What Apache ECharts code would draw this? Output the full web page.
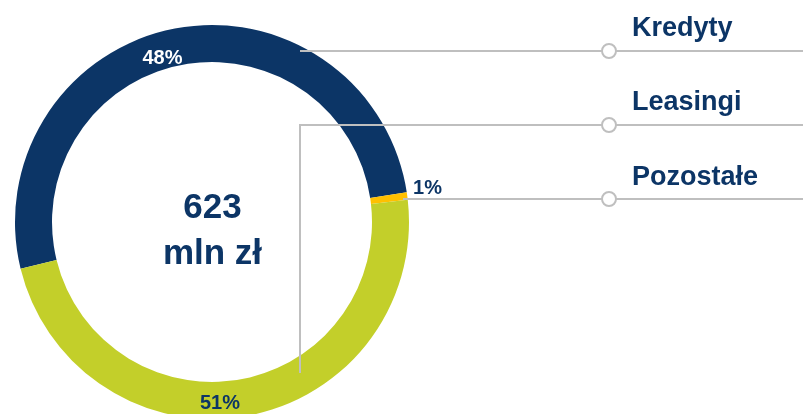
<!DOCTYPE html>
<html>
<head>
<meta charset="utf-8">
<script src="https://cdn.jsdelivr.net/npm/echarts@6/dist/echarts.min.js"></script>
<style>
html,body{margin:0;padding:0;background:#fff;}
#chart{width:803px;height:414px;}
</style>
</head>
<body>
<div id="chart"></div>
<script>
// Categories in legend order
const categories = ['Kredyty', 'Leasingi', 'Pozostałe'];
// Arc shares as drawn in the picture (%)
const shares = [51.4, 48.0, 0.6];
// Percentage labels as printed in the picture
const pctLabels = ['48%', '51%', '1%'];
// Centre text
const totalValue = '623';
const totalUnit = 'mln zł';
// Clockwise drawing order of slices (indices into categories)
const drawOrder = [0, 2, 1];

const NAVY = '#0c3566';
const GREEN = '#c3cf2a';
const ORANGE = '#ffc000';
const GREY = '#bfbfbf';
const sliceColors = [NAVY, GREEN, ORANGE];

const FONT = '"Liberation Sans", Arial, sans-serif';

const pieData = drawOrder.map(i => ({
  name: categories[i],
  value: shares[i],
  itemStyle: { color: sliceColors[i] }
}));

const chart = echarts.init(document.getElementById('chart'), null, { renderer: 'canvas' });

function txt(x, y, text, size, color, align) {
  return {
    type: 'text', x: x, y: y, z: 100,
    style: {
      text: text, fill: color,
      font: 'bold ' + size + 'px ' + FONT,
      align: align || 'center', verticalAlign: 'middle'
    }
  };
}
function line(x1, y1, x2, y2) {
  return {
    type: 'line', z: 50,
    shape: { x1: x1, y1: y1, x2: x2, y2: y2 },
    style: { stroke: GREY, lineWidth: 2 }
  };
}
function dot(x, y) {
  return {
    type: 'circle', z: 60,
    shape: { cx: x, cy: y, r: 7 },
    style: { fill: '#fff', stroke: GREY, lineWidth: 2 }
  };
}

const legendY = [51, 125, 199];
const legendTextY = [29, 103, 178];

const graphics = [
  line(300, legendY[0], 803, legendY[0]),
  line(300, legendY[1], 803, legendY[1]),
  line(300, legendY[1] - 1, 300, 373),
  line(403, legendY[2], 803, legendY[2]),
  dot(609, legendY[0]), dot(609, legendY[1]), dot(609, legendY[2]),
  txt(632, legendTextY[0], categories[0], 27, NAVY, 'left'),
  txt(632, legendTextY[1], categories[1], 27, NAVY, 'left'),
  txt(632, legendTextY[2], categories[2], 27, NAVY, 'left'),
  txt(162.5, 58.5, pctLabels[0], 20, '#ffffff'),
  txt(220, 403.5, pctLabels[1], 20, NAVY),
  txt(427.5, 188.5, pctLabels[2], 20, NAVY),
  txt(212.5, 208, totalValue, 35, NAVY),
  txt(212.5, 254.5, totalUnit, 35, NAVY)
];

chart.setOption({
  animation: false,
  backgroundColor: '#ffffff',
  series: [{
    type: 'pie',
    center: [212, 222],
    radius: [160, 197],
    startAngle: 193.7,
    clockwise: true,
    label: { show: false },
    labelLine: { show: false },
    emphasis: { disabled: true },
    itemStyle: { borderWidth: 0 },
    data: pieData
  }],
  graphic: graphics
});
</script>
</body>
</html>
